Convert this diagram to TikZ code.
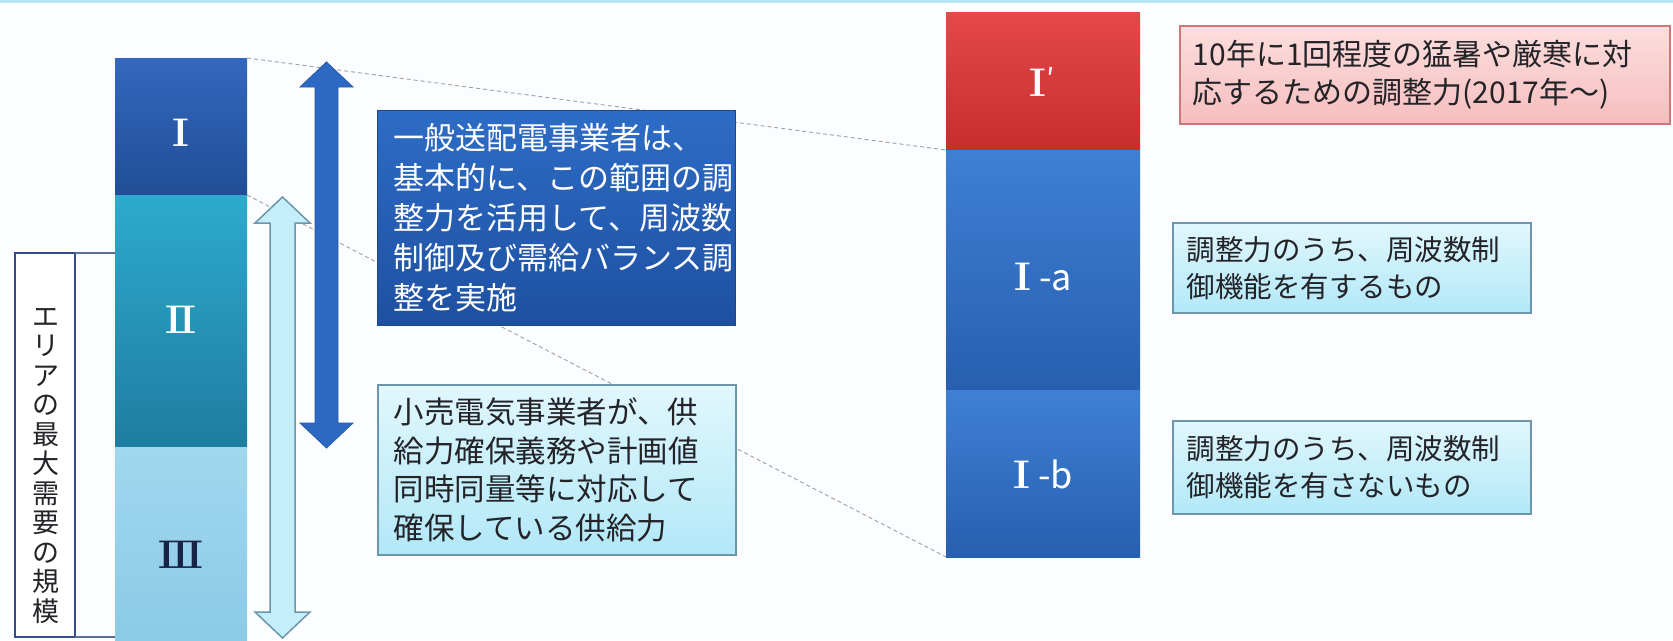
\documentclass[tikz,border=0pt]{standalone}
\usepackage{fontspec}
\newfontfamily\jp{Noto Sans CJK JP}
\definecolor{bgc}{RGB}{251,253,255}
\definecolor{topline}{RGB}{185,230,245}
\definecolor{bIt}{RGB}{52,104,190}
\definecolor{bIb}{RGB}{32,78,150}
\definecolor{bIIt}{RGB}{45,170,205}
\definecolor{bIIb}{RGB}{30,125,160}
\definecolor{bIIIt}{RGB}{160,215,238}
\definecolor{bIIIb}{RGB}{140,202,230}
\definecolor{redt}{RGB}{228,72,72}
\definecolor{redb}{RGB}{200,45,45}
\definecolor{blut}{RGB}{62,128,212}
\definecolor{blub}{RGB}{40,95,175}
\definecolor{dkt}{RGB}{45,108,198}
\definecolor{dkb}{RGB}{30,80,160}
\definecolor{dkborder}{RGB}{30,70,140}
\definecolor{cyt}{RGB}{225,247,253}
\definecolor{cyb}{RGB}{178,232,248}
\definecolor{cyborder}{RGB}{110,150,170}
\definecolor{pkt}{RGB}{252,222,222}
\definecolor{pkb}{RGB}{246,190,190}
\definecolor{pkborder}{RGB}{205,120,120}
\definecolor{areaborder}{RGB}{55,75,130}
\definecolor{arrdark}{RGB}{45,105,195}
\definecolor{arrlight}{RGB}{195,238,250}
\definecolor{txtdark}{RGB}{35,35,40}
\definecolor{navy}{RGB}{25,35,70}
\newcommand{\rnum}{\rmfamily\bfseries\fontsize{40}{40}\selectfont}
\newcommand{\rI}{{\rnum I}}
\newcommand{\rII}{{\rnum I\kern-0.07em I}}
\newcommand{\rIII}{{\rnum I\kern-0.07em I\kern-0.07em I}}
\newcommand{\sfx}[1]{{\jp\fontsize{36}{36}\selectfont\ -#1}}
\tikzset{
  bar/.style={anchor=north west, inner sep=0pt, outer sep=0pt},
  numlbl/.style={font=\jp\fontsize{30}{30}\selectfont, text=white, inner sep=0pt},
  dkbox/.style={anchor=north west, inner sep=0pt, draw=dkborder, line width=1pt,
    top color=dkt, bottom color=dkb, text=white, align=left,
    font=\jp\fontsize{31}{40}\selectfont},
  cybox/.style={anchor=north west, inner sep=0pt, draw=cyborder, line width=1.5pt,
    top color=cyt, bottom color=cyb, text=txtdark, align=left},
  pkbox/.style={anchor=north west, inner sep=0pt, draw=pkborder, line width=1.5pt,
    top color=pkt, bottom color=pkb, text=txtdark, align=left},
  guide/.style={draw=gray!75, line width=0.9pt, dash pattern=on 4pt off 3pt},
}
\begin{document}
\begin{tikzpicture}[x=1pt,y=-1pt]
\useasboundingbox (0,0) rectangle (1673,640);
\fill[bgc] (0,0) rectangle (1673,640);
\fill[topline] (0,0) rectangle (1673,2.5);

% left column
\node[bar, minimum width=132pt, minimum height=137pt, top color=bIt, bottom color=bIb] (b1) at (115,58) {};
\node[bar, minimum width=132pt, minimum height=252pt, top color=bIIt, bottom color=bIIb] (b2) at (115,195) {};
\node[bar, minimum width=132pt, minimum height=195pt, top color=bIIIt, bottom color=bIIIb] (b3) at (115,447) {};
\node[numlbl] (l1) at (181,133) {\rI};
\node[numlbl] (l2) at (181,320) {\rII};
\node[numlbl, text=navy] (l3) at (181,555) {\rIII};

% right column
\node[bar, minimum width=194pt, minimum height=138pt, top color=redt, bottom color=redb] (c1) at (946,12) {};
\node[bar, minimum width=194pt, minimum height=240pt, top color=blut, bottom color=blub] (c2) at (946,150) {};
\node[bar, minimum width=194pt, minimum height=167pt, top color=blut, bottom color=blub] (c3) at (946,390) {};
\node[numlbl] (r1l) at (1042,82) {\rI\raisebox{6pt}{′}};
\node[numlbl] (r2l) at (1043,277) {\rI\sfx{a}};
\node[numlbl] (r3l) at (1043,474) {\rI\sfx{b}};

% dashed guide lines
\draw[guide] (b1.north east) -- (c2.north west);
\draw[guide] (b1.south east) -- (c3.south west);

% area box
\node[bar, minimum width=60pt, minimum height=384pt, draw=areaborder, line width=2.5pt, fill=white] (area) at (15,253) {};
\node[inner sep=0pt, align=center, text=txtdark, font=\jp\fontsize{27}{29.5}\selectfont] (areatxt) at (46,466)
  {エ\\リ\\ア\\の\\最\\大\\需\\要\\の\\規\\模};
\draw[areaborder!80, line width=1.2pt] (area.north east) -- (area.north east -| b2.west);
\draw[areaborder!80, line width=1.2pt] (area.south east) -- (area.south east -| b3.west);

% dark double arrow
\filldraw[fill=arrdark, draw=arrdark!85!black, line width=0.8pt]
  (326.5,62) -- (353,87) -- (338,87) -- (338,423) -- (353,423) -- (326.5,448)
  -- (300,423) -- (315,423) -- (315,87) -- (300,87) -- cycle;
% light double arrow
\filldraw[fill=arrlight, draw=cyborder, line width=1.5pt]
  (282.5,197) -- (310,223) -- (295,223) -- (295,612) -- (310,612) -- (282.5,638)
  -- (255,612) -- (270,612) -- (270,223) -- (255,223) -- cycle;

% middle text boxes
\node[dkbox, minimum width=358pt, minimum height=215pt, text width=326pt] (dk) at (377,110)
  {一般送配電事業者は、\\基本的に、この範囲の調\\整力を活用して、周波数\\制御及び需給バランス調\\整を実施};
\node[cybox, minimum width=358pt, minimum height=170pt, text width=326pt,
  font=\jp\fontsize{30.5}{38.5}\selectfont] (lt) at (377,384)
  {小売電気事業者が、供\\給力確保義務や計画値\\同時同量等に対応して\\確保している供給力};

% right text boxes
\node[pkbox, minimum width=490pt, minimum height=98pt, text width=464pt,
  font=\jp\fontsize{30}{38}\selectfont] (pk) at (1179,25)
  {10年に1回程度の猛暑や厳寒に対\\応するための調整力(2017年～)};
\node[cybox, minimum width=358pt, minimum height=90pt, text width=330pt,
  font=\jp\fontsize{28.5}{37}\selectfont] (ca) at (1172,222)
  {調整力のうち、周波数制\\御機能を有するもの};
\node[cybox, minimum width=358pt, minimum height=93pt, text width=330pt,
  font=\jp\fontsize{28.5}{37}\selectfont] (cb) at (1172,420)
  {調整力のうち、周波数制\\御機能を有さないもの};
\end{tikzpicture}
\end{document}
